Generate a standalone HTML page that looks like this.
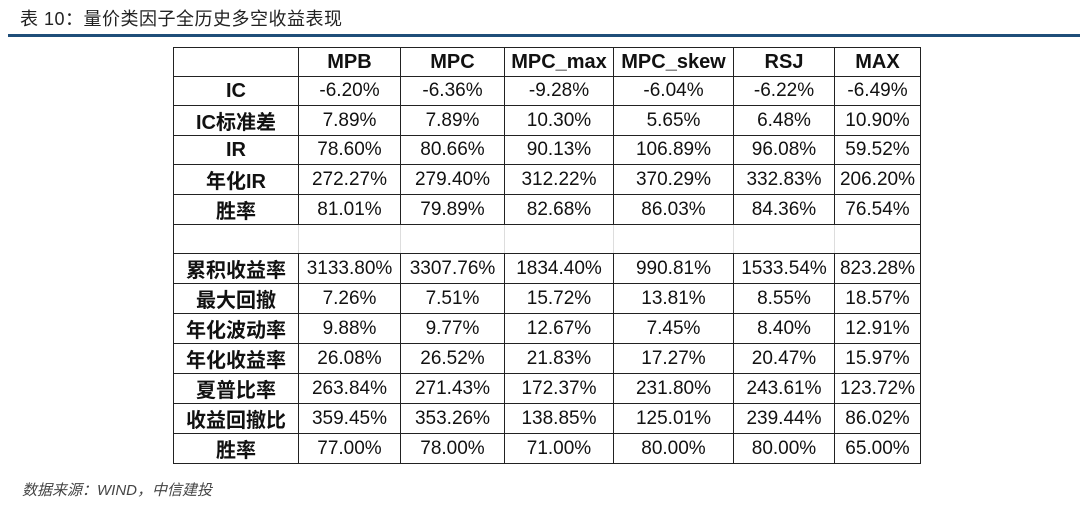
<!DOCTYPE html>
<html><head><meta charset="utf-8"><style>
body{margin:0;width:1080px;height:506px;background:#fff;position:relative;overflow:hidden;font-family:"Liberation Sans","Noto Sans CJK SC",sans-serif;}
#title{position:absolute;left:20px;top:5px;font-size:18px;color:#222;letter-spacing:0.5px}
#rule{position:absolute;left:8px;top:34px;width:1072px;height:3px;background:#1f4e79}
table{position:absolute;left:173px;top:47px;border-collapse:collapse;table-layout:fixed}
td{border:1.5px solid #222;height:28.1px;padding:0;text-align:center;font-size:19px;color:#111;white-space:nowrap;overflow:hidden}
td.h{font-weight:bold;font-size:20px}
tr.blank td{border-left-color:#ddd;border-right-color:#ddd}
tr.blank td:first-child{border-left-color:#222}
tr.blank td:last-child{border-right-color:#222}
#src{position:absolute;left:22px;top:479px;font-size:15px;font-style:italic;color:#444}
</style></head><body>
<div id="title">表 10：量价类因子全历史多空收益表现</div>
<div id="rule"></div>
<table>
<colgroup><col style="width:125px"><col style="width:102px"><col style="width:104px"><col style="width:109px"><col style="width:120px"><col style="width:101px"><col style="width:86px"></colgroup>
<tr><td></td><td class="h">MPB</td><td class="h">MPC</td><td class="h">MPC_max</td><td class="h">MPC_skew</td><td class="h">RSJ</td><td class="h">MAX</td></tr>
<tr><td class="h">IC</td><td>-6.20%</td><td>-6.36%</td><td>-9.28%</td><td>-6.04%</td><td>-6.22%</td><td>-6.49%</td></tr>
<tr><td class="h">IC标准差</td><td>7.89%</td><td>7.89%</td><td>10.30%</td><td>5.65%</td><td>6.48%</td><td>10.90%</td></tr>
<tr><td class="h">IR</td><td>78.60%</td><td>80.66%</td><td>90.13%</td><td>106.89%</td><td>96.08%</td><td>59.52%</td></tr>
<tr><td class="h">年化IR</td><td>272.27%</td><td>279.40%</td><td>312.22%</td><td>370.29%</td><td>332.83%</td><td>206.20%</td></tr>
<tr><td class="h">胜率</td><td>81.01%</td><td>79.89%</td><td>82.68%</td><td>86.03%</td><td>84.36%</td><td>76.54%</td></tr>
<tr class="blank"><td></td><td></td><td></td><td></td><td></td><td></td><td></td></tr>
<tr><td class="h">累积收益率</td><td>3133.80%</td><td>3307.76%</td><td>1834.40%</td><td>990.81%</td><td>1533.54%</td><td>823.28%</td></tr>
<tr><td class="h">最大回撤</td><td>7.26%</td><td>7.51%</td><td>15.72%</td><td>13.81%</td><td>8.55%</td><td>18.57%</td></tr>
<tr><td class="h">年化波动率</td><td>9.88%</td><td>9.77%</td><td>12.67%</td><td>7.45%</td><td>8.40%</td><td>12.91%</td></tr>
<tr><td class="h">年化收益率</td><td>26.08%</td><td>26.52%</td><td>21.83%</td><td>17.27%</td><td>20.47%</td><td>15.97%</td></tr>
<tr><td class="h">夏普比率</td><td>263.84%</td><td>271.43%</td><td>172.37%</td><td>231.80%</td><td>243.61%</td><td>123.72%</td></tr>
<tr><td class="h">收益回撤比</td><td>359.45%</td><td>353.26%</td><td>138.85%</td><td>125.01%</td><td>239.44%</td><td>86.02%</td></tr>
<tr><td class="h">胜率</td><td>77.00%</td><td>78.00%</td><td>71.00%</td><td>80.00%</td><td>80.00%</td><td>65.00%</td></tr>
</table>
<div id="src">数据来源：WIND，中信建投</div>
</body></html>
